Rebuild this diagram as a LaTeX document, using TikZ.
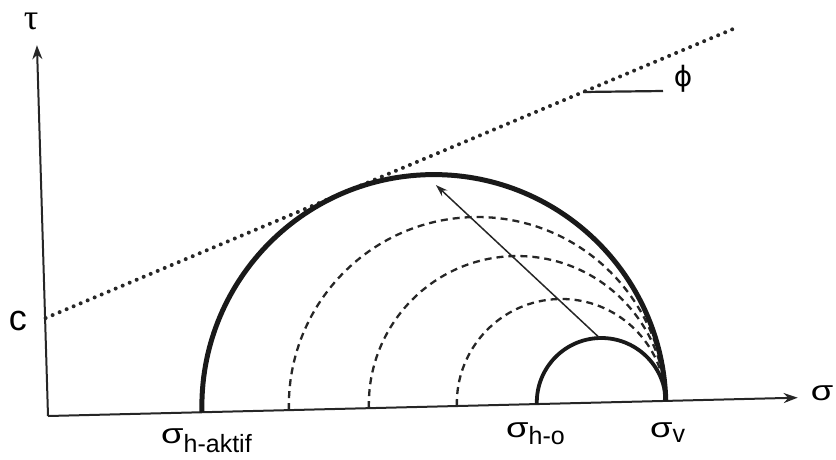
\documentclass[tikz,border=0pt]{standalone}
\usepackage{fontspec}
\setmainfont{Liberation Sans}
\newfontfamily\dvs{DejaVu Sans}
\newfontfamily\lserif{Liberation Serif}
\usetikzlibrary{arrows.meta}
\newcommand{\sig}{\scalebox{1.3}[1.0]{\fontsize{28}{28}\selectfont σ}}
\begin{document}
\begin{tikzpicture}[x=1pt,y=1pt,
  axis/.style={line width=2pt, draw=black!85, -{Stealth[length=14pt,width=10pt]}},
  dotline/.style={line width=4pt, line cap=round, dash pattern=on 0pt off 7.6pt, draw=black!85},
  mohrbig/.style={line width=5pt, draw=black!90},
  mohrsmall/.style={line width=3.8pt, draw=black!90},
  mohrdash/.style={line width=2.3pt, dash pattern=on 7pt off 5pt, draw=black!85},
  pointer/.style={line width=1.5pt, draw=black!85, -{Stealth[length=12pt,width=8pt]}},
  lab/.style={inner sep=0pt, font=\fontsize{25}{25}\selectfont}
]
\useasboundingbox (0,0) rectangle (836,-459);
\begin{scope}[shift={(48,-416)}, rotate=1.4]
  \coordinate (O) at (0,0);
  \coordinate (ytop) at (-2,371);
  \coordinate (xend) at (750,0);
  \draw[axis] (O) -- (ytop);
  \draw[axis] (O) -- (xend);
  \coordinate (C) at (0,98);
  \coordinate (D) at (700,372.4);
  \draw[dotline] (C) -- (D);
  \coordinate (A) at (154,0);
  \coordinate (V) at (618,0);
  \coordinate (d1) at (241,0);
  \coordinate (d2) at (321,0);
  \coordinate (d3) at (409,0);
  \coordinate (H) at (489,0);
  \draw[mohrdash] (d1) arc[start angle=180, end angle=0, radius=188.5pt];
  \draw[mohrdash] (d2) arc[start angle=180, end angle=0, radius=148.5pt];
  \draw[mohrdash] (d3) arc[start angle=180, end angle=0, radius=104.5pt];
  \draw[mohrbig] (A) arc[start angle=180, end angle=0, radius=232pt];
  \draw[mohrsmall] (H) arc[start angle=180, end angle=0, radius=64.5pt];
  \coordinate (st) at (553.5,64.5);
  \coordinate (en) at (393.5,221.4);
  \draw[pointer] (st) -- (en);
\end{scope}
\coordinate (p1) at (583,-92);
\coordinate (p2) at (663,-91);
\draw[line width=2.2pt, draw=black!85] (p1) -- (p2);
\node[lab, font=\fontsize{28}{28}\selectfont\dvs] (phi) at (683,-79) {ϕ};
\node[lab, font=\fontsize{36}{36}\selectfont\lserif] (tau) at (31,-21) {τ};
\node[lab, font=\fontsize{36}{36}\selectfont] (c) at (18,-321) {c};
\node[lab] (sx) at (822,-393) {\sig};
\node[lab, anchor=base west] (sa) at (161,-443) {\sig\raisebox{-9pt}{h-aktif}};
\node[lab, anchor=base west] (sh) at (506,-437) {\sig\raisebox{-7pt}{h-o}};
\node[lab, anchor=base west] (sv) at (650,-437) {\sig\raisebox{-5pt}{v}};
\end{tikzpicture}
\end{document}
